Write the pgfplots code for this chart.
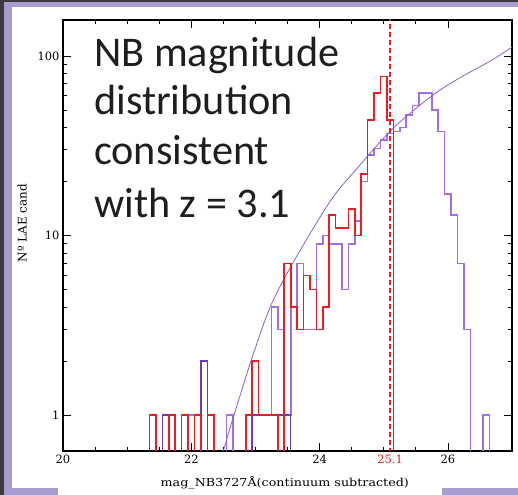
\documentclass[border=0pt]{standalone}
\usepackage{fontspec}
\usepackage{pgfplots}
\pgfplotsset{compat=1.18}
\newfontfamily\calib{Carlito}
\newfontfamily\hersh{DejaVu Serif}
\definecolor{histred}{RGB}{232,30,36}
\definecolor{dpurline}{RGB}{115,55,190}
\definecolor{curveline}{RGB}{140,95,210}
\definecolor{frm}{RGB}{168,155,205}
\definecolor{darkbg}{RGB}{60,58,64}
\definecolor{txt}{RGB}{30,30,30}
\begin{document}
\begin{tikzpicture}[x=1bp,y=1bp]
\useasboundingbox (0,0) rectangle (518,495);
\fill[darkbg] (0,0) rectangle (518,495);
\fill[frm] (4,0) rectangle (518,493);
\fill[white] (12,0) rectangle (518,488);
\fill[frm] (12,0) rectangle (58,7);
\fill[frm] (442,0) rectangle (518,7);
\begin{axis}[
  at={(63bp,44bp)}, anchor=south west, scale only axis,
  width=449bp, height=431bp,
  xmin=20, xmax=27, ymode=log, ymin=0.631, ymax=158.5,
  xtick={20,22,24,26}, xticklabels={20,22,24,26}, minor x tick num=3,
  extra x ticks={25.1}, extra x tick labels={25.1},
  extra x tick style={major tick length=0pt, tick label style={text=histred}},
  ytick={1,10,100}, yticklabels={1,10,100},
  axis line style={line width=1.1bp},
  major tick length=8bp, minor tick length=4bp,
  every tick/.style={black, line width=0.7bp},
  tick label style={font=\hersh\fontsize{11.5}{13}\selectfont},
  xlabel={\scalebox{1.16}[1]{mag\_NB3727\AA(continuum subtracted)}},
  xlabel style={font=\hersh\fontsize{11}{12}\selectfont, at={(axis description cs:0.494,-0.074)}, anchor=center},
  ylabel={Nº LAE cand},
  ylabel style={font=\hersh\fontsize{12}{13}\selectfont, at={(axis description cs:-0.091,0.529)}, anchor=center},
  clip=true,
]
% broad lavender histogram
\addplot[const plot, color={rgb,255:red,160;green,110;blue,230}, line width=1.6bp] coordinates {
(21.45,0.5)(21.55,1)(21.65,0.5)(21.95,1)(22.05,0.5)(22.15,2)(22.25,0.5)
(22.55,1)(22.65,0.5)(22.95,1)(23.25,4)(23.35,3)(23.45,1)(23.55,4)(23.65,7)
(23.75,3)(23.95,9)(24.05,10)(24.15,9)(24.35,5)(24.45,9)(24.55,12)(24.65,20)
(24.75,28)(24.85,30.5)(24.95,34)(25.05,37)(25.15,38)(25.25,40)(25.35,47)
(25.45,53)(25.55,62)(25.75,50)(25.85,38)(25.95,17)(26.05,13)(26.15,7)
(26.25,3)(26.35,0.5)(26.55,1)(26.65,0.5)(26.75,0.5)};
% darker purple bins
\addplot[const plot, color=dpurline, line width=1.5bp] coordinates {
(21.45,0.5)(21.55,1)(21.65,0.5)(22.15,2)(22.25,0.5)(22.85,0.5)(22.95,1)(23.55,0.5)};
% model curve
\addplot[color=curveline, line width=0.8bp, smooth] coordinates {
(22.50,0.63)(22.61,0.86)(22.75,1.25)(22.95,2.1)(23.23,4)(23.58,7)(24.17,15.6)
(24.6,24)(25.16,40)(25.78,61)(26.2,76)(26.67,94)(27.0,112)};
% red histogram
\addplot[const plot, color=histred, line width=1.6bp] coordinates {
(21.25,0.5)(21.35,1)(21.45,0.5)(21.65,1)(21.75,0.5)(21.85,1)(21.95,0.5)
(22.05,1)(22.15,0.5)(22.25,1)(22.35,0.5)(22.85,1)(22.95,2)(23.05,1)(23.35,0.5)
(23.45,7)(23.55,4)(23.65,3)(23.75,6)(23.85,5)(23.95,3)(24.05,4)(24.15,13)
(24.25,11)(24.45,14)(24.55,10)(24.65,22)(24.75,44)(24.85,62)(24.95,77)
(25.05,44)(25.15,0.5)};
% dashed limit
\addplot[color=histred, line width=1.3bp, dash pattern=on 5bp off 3bp] coordinates {(25.1,0.5)(25.1,200)};
\end{axis}
\begin{scope}[every node/.style={anchor=base west, inner sep=0pt, text=txt, font=\calib\fontsize{42.4}{50}\selectfont}]
\node at (94,428) {NB magnitude};
\node at (94,380) {distribution};
\node at (94,330) {consistent};
\node at (94,277) {with z = 3.1};
\end{scope}
\end{tikzpicture}
\end{document}
